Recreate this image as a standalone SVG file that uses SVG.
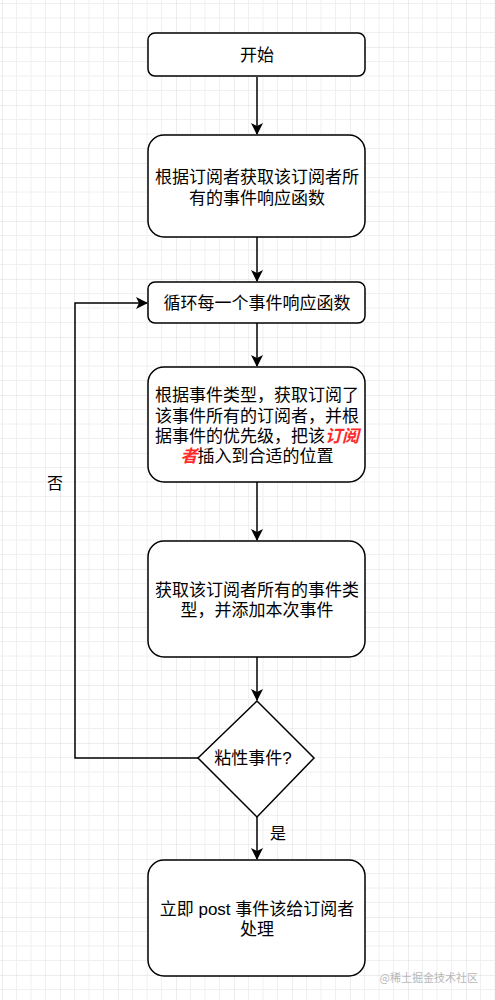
<svg xmlns="http://www.w3.org/2000/svg" width="495" height="1000" viewBox="0 0 495 1000">
<style>
.box{fill:#fff;stroke:#000;stroke-width:1.5}
.t{font-family:"Liberation Sans","Noto Sans CJK SC",sans-serif;font-size:17px;fill:#000;text-anchor:middle}
.lbl{font-family:"Liberation Sans","Noto Sans CJK SC",sans-serif;font-size:16px;fill:#000;text-anchor:middle}
.edge{fill:none;stroke:#000;stroke-width:1.5}
.red{fill:#ff2a2a;font-style:italic;font-weight:bold}
</style>
<defs>
<pattern id="grid" patternUnits="userSpaceOnUse" x="2" y="-11" width="58" height="58">
<path d="M14.5,0V58M29,0V58M43.5,0V58M0,14.5H58M0,29H58M0,43.5H58" stroke="#f0f0f0" stroke-width="1" fill="none"/>
<path d="M0,0V58M0,0H58" stroke="#dcdcdc" stroke-width="1" fill="none"/>
</pattern>
<marker id="arr" markerUnits="userSpaceOnUse" markerWidth="12" markerHeight="12" viewBox="0 0 12 12" refX="11" refY="6" orient="auto">
<path d="M0,0 L12,6 L0,12 L3,6 Z" fill="#000"/>
</marker>
</defs>
<rect width="495" height="1000" fill="#fff"/>
<rect width="495" height="1000" fill="url(#grid)"/>

<g id="connectors">
<path class="edge" d="M257,77V134" marker-end="url(#arr)"/>
<path class="edge" d="M257,237V281" marker-end="url(#arr)"/>
<path class="edge" d="M257,323V366" marker-end="url(#arr)"/>
<path class="edge" d="M257,482V540" marker-end="url(#arr)"/>
<path class="edge" d="M257,657V700" marker-end="url(#arr)"/>
<path class="edge" d="M257,817V859" marker-end="url(#arr)"/>
<path class="edge" d="M198,758H75V303H147" marker-end="url(#arr)"/>
<text class="lbl" x="55" y="489">否</text>
<text class="lbl" x="278" y="839">是</text>
</g>

<g id="start">
<rect class="box" x="148" y="33" width="217" height="43" rx="7"/>
<text class="t" x="257" y="61">开始</text>
</g>
<g id="get-handlers">
<rect class="box" x="148" y="135" width="217" height="102" rx="16"/>
<text class="t" x="257" y="183">根据订阅者获取该订阅者所</text>
<text class="t" x="257" y="204">有的事件响应函数</text>
</g>
<g id="loop">
<rect class="box" x="148" y="282" width="217" height="41" rx="7"/>
<text class="t" x="257" y="309">循环每一个事件响应函数</text>
</g>
<g id="insert">
<rect class="box" x="148" y="367" width="217" height="115" rx="16"/>
<text class="t" x="257" y="401">根据事件类型，获取订阅了</text>
<text class="t" x="257" y="422">该事件所有的订阅者，并根</text>
<text class="t" x="257" y="442">据事件的优先级，把该<tspan class="red">订阅</tspan></text>
<text class="t" x="257" y="462"><tspan class="red">者</tspan>插入到合适的位置</text>
</g>
<g id="add-type">
<rect class="box" x="148" y="541" width="217" height="116" rx="16"/>
<text class="t" x="257" y="596">获取该订阅者所有的事件类</text>
<text class="t" x="257" y="616">型，并添加本次事件</text>
</g>
<g id="sticky">
<path class="box" d="M257,701 L314,758 L257,817 L198,758 Z"/>
<text class="t" x="253" y="764">粘性事件?</text>
</g>
<g id="post">
<rect class="box" x="148" y="860" width="217" height="116" rx="16"/>
<text class="t" x="257" y="915">立即 post 事件该给订阅者</text>
<text class="t" x="257" y="935">处理</text>
</g>
<text x="478" y="982" font-family="'Noto Sans CJK SC',sans-serif" font-size="11" fill="#b8b8b8" text-anchor="end">@稀土掘金技术社区</text>
</svg>
